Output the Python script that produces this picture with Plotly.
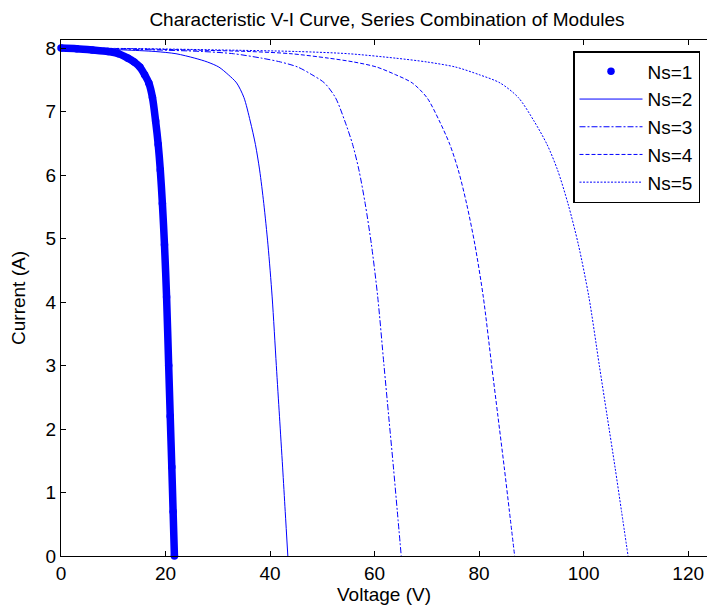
import plotly.graph_objects as go

# Current levels (A)
current_A = [8.00, 7.99, 7.97, 7.945, 7.91, 7.84, 7.78, 7.70, 7.58, 7.45, 7.22,
             6.85, 6.48, 6.08, 5.55, 4.90, 4.08, 3.00, 2.20, 1.40, 0.70, 0.00]

# Voltages (V) for each series combination at those current levels
voltage_ns1 = [0, 3, 6, 9, 11, 12.8, 14, 15.1, 16, 16.8, 17.5,
               18.1, 18.6, 19.0, 19.4, 19.8, 20.2, 20.6, 20.9, 21.2, 21.45, 21.7]
voltage_ns2 = [0, 6, 12, 18, 22, 25.6, 28, 30.2, 32, 33.6, 35,
               36.2, 37.2, 38, 38.8, 39.6, 40.4, 41.2, 41.8, 42.4, 42.9, 43.4]
voltage_ns3 = [0, 9, 18, 27, 33, 38.4, 42, 45.3, 48, 50.4, 52.5,
               54.3, 55.8, 57, 58.2, 59.4, 60.6, 61.8, 62.7, 63.6, 64.35, 65.1]
voltage_ns4 = [0, 12, 24, 36, 44, 51.2, 56, 60.4, 64, 67.2, 70,
               72.4, 74.4, 76, 77.6, 79.2, 80.8, 82.4, 83.6, 84.8, 85.8, 86.8]
voltage_ns5 = [0, 15, 30, 45, 55, 64, 70, 75.5, 80, 84, 87.5,
               90.5, 93, 95, 97, 99, 101, 103, 104.5, 106, 107.25, 108.5]

series_names = ["Ns=1", "Ns=2", "Ns=3", "Ns=4", "Ns=5"]
x_ticks = [0, 20, 40, 60, 80, 100, 120]
y_ticks = [0, 1, 2, 3, 4, 5, 6, 7, 8]

BLUE = "#0000FF"
FONT = "Liberation Sans, Arial, Helvetica, sans-serif"

fig = go.Figure()

# Ns=1: dense dot markers -> thick band
fig.add_trace(go.Scatter(x=voltage_ns1, y=current_A, mode="lines",
                         line=dict(color=BLUE, width=7.5, shape="spline", smoothing=0.8),
                         showlegend=False, hoverinfo="skip"))
fig.add_trace(go.Scatter(x=voltage_ns1, y=current_A, mode="markers",
                         marker=dict(color=BLUE, size=7.5),
                         name=series_names[0], cliponaxis=False))

dashes = ["solid", "6px,2px,2px,2px", "4px,2px", "2px,1.5px"]
for name, vv, dash in zip(series_names[1:],
                          [voltage_ns2, voltage_ns3, voltage_ns4, voltage_ns5],
                          dashes):
    fig.add_trace(go.Scatter(x=vv, y=current_A, mode="lines", name=name,
                             line=dict(color=BLUE, width=1, dash=dash,
                                       shape="spline", smoothing=0.8)))

fig.update_layout(
    width=707, height=610, autosize=False,
    margin=dict(l=61, r=0, t=40, b=54),
    paper_bgcolor="white", plot_bgcolor="white",
    font=dict(family=FONT, size=19, color="black"),
    title=dict(text="Characteristic V-I Curve, Series Combination of Modules",
               x=387 / 707, xref="container", xanchor="center",
               y=1 - 19 / 610, yref="container", yanchor="middle",
               font=dict(size=19, family=FONT, color="black")),
    xaxis=dict(range=[0, 123.6], tickvals=x_ticks, ticks="inside", ticklen=5,
               tickcolor="black", showline=True, linecolor="black", linewidth=1,
               mirror="ticks", showgrid=False, zeroline=False,
               title=dict(text="Voltage (V)", standoff=3,
                          font=dict(size=19, family=FONT, color="black")),
               tickfont=dict(size=19)),
    yaxis=dict(range=[0, 8.126], tickvals=y_ticks, ticks="inside", ticklen=5,
               tickcolor="black", showline=True, linecolor="black", linewidth=1,
               mirror=False, showgrid=False, zeroline=False,
               title=dict(text="Current (A)", standoff=14,
                          font=dict(size=19, family=FONT, color="black")),
               tickfont=dict(size=19)),
    legend=dict(x=(700 - 61) / 646, y=(556 - 51) / 516, xanchor="right", yanchor="top",
                bordercolor="black", borderwidth=1.5, bgcolor="white",
                font=dict(size=19, family=FONT), itemwidth=63, tracegroupgap=0),
)

post = ("document.body.style.margin='0';document.body.style.padding='0';"
        "document.documentElement.style.margin='0';"
        "document.documentElement.style.overflow='hidden';")
fig.write_html("out.html", post_script=post, config={"displayModeBar": False})
